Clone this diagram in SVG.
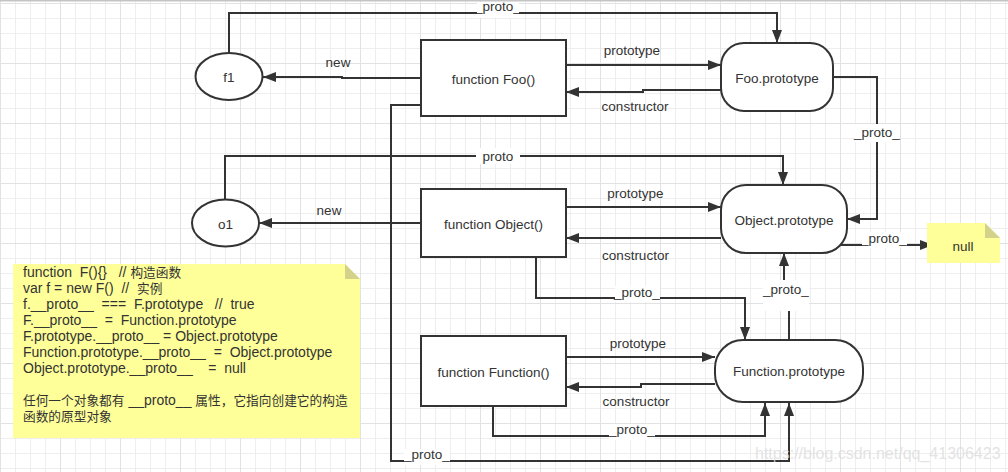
<svg xmlns="http://www.w3.org/2000/svg" width="1008" height="472" viewBox="0 0 1008 472">
<style>
.t{font-family:"Liberation Sans","Noto Sans CJK SC",Arial,sans-serif;font-size:13.5px;fill:#333;text-anchor:middle}
.n{font-family:"Liberation Sans","Noto Sans CJK SC",Arial,sans-serif;font-size:14px;fill:#333;white-space:pre}
.cj{font-size:12.7px}
.box{fill:#fff;stroke:#333;stroke-width:2}
.c{fill:none;stroke:#333;stroke-width:2}
.bg{fill:#fff}
</style>
<defs>
<pattern id="grid" patternUnits="userSpaceOnUse" x="0" y="3" width="60" height="60">
<path d="M15.5,0V60M30.5,0V60M45.5,0V60M0,15.5H60M0,30.5H60M0,45.5H60" stroke="#eeeeee" stroke-width="1" fill="none"/>
<path d="M0.5,0V60M0,0.5H60" stroke="#e2e2e2" stroke-width="1" fill="none"/>
</pattern>
<marker id="arr" markerUnits="userSpaceOnUse" markerWidth="14" markerHeight="10" refX="13" refY="5" orient="auto">
<path d="M0,0L13,5L0,10z" fill="#333"/>
</marker>
</defs>
<rect width="1008" height="472" fill="#fff"/>
<rect width="1008" height="472" fill="url(#grid)"/>
<rect x="0" y="0" width="1008" height="1.5" fill="#c4c4c4"/>

<g id="connectors">
<path class="c" d="M229,53V13H777V43" marker-end="url(#arr)"/>
<path class="c" d="M421,78H342V77H263" marker-end="url(#arr)"/>
<path class="c" d="M566,65H721" marker-end="url(#arr)"/>
<path class="c" d="M721,90H643V92H566" marker-end="url(#arr)"/>
<path class="c" d="M421,105H391V461H789V403" marker-end="url(#arr)"/>
<path class="c" d="M833,77H877V219H847" marker-end="url(#arr)"/>
<path class="c" d="M225,199V156H783V185" marker-end="url(#arr)"/>
<path class="c" d="M421,223H259" marker-end="url(#arr)"/>
<path class="c" d="M566,207H721" marker-end="url(#arr)"/>
<path class="c" d="M721,238H566" marker-end="url(#arr)"/>
<path class="c" d="M840,245H933" marker-end="url(#arr)"/>
<path class="c" d="M536,257V298H745V340" marker-end="url(#arr)"/>
<path class="c" d="M789,340V285H784V253" marker-end="url(#arr)"/>
<path class="c" d="M566,357H715" marker-end="url(#arr)"/>
<path class="c" d="M715,384H641V387H566" marker-end="url(#arr)"/>
<path class="c" d="M493,406V436H765V403" marker-end="url(#arr)"/>
</g>

<g id="labels">
<rect class="bg" x="477" y="2" width="42" height="16"/>
<text class="t" x="498" y="11">_proto_</text>
<text class="t" x="338" y="67">new</text>
<text class="t" x="632" y="55">prototype</text>
<text class="t" x="635" y="111">constructor</text>
<rect class="bg" x="855" y="124" width="44" height="18"/>
<text class="t" x="877" y="137">_proto_</text>
<rect class="bg" x="476" y="148" width="44" height="16"/>
<text class="t" x="498" y="161">proto</text>
<text class="t" x="329" y="215">new</text>
<text class="t" x="635.5" y="198">prototype</text>
<text class="t" x="635.5" y="260">constructor</text>
<rect class="bg" x="862" y="232" width="45" height="16"/>
<text class="t" x="884" y="243">_proto_</text>
<rect class="bg" x="615" y="286" width="45" height="16"/>
<text class="t" x="637" y="297">_proto_</text>
<rect class="bg" x="763" y="280" width="46" height="31"/>
<text class="t" x="786" y="294">_proto_</text>
<text class="t" x="638" y="348">prototype</text>
<text class="t" x="636" y="406">constructor</text>
<rect class="bg" x="609" y="424" width="46" height="16"/>
<text class="t" x="632" y="434">_proto_</text>
<rect class="bg" x="404" y="449" width="46" height="16"/>
<text class="t" x="427" y="459">_proto_</text>
</g>

<g id="f1">
<ellipse class="box" cx="229" cy="76.5" rx="33.5" ry="23.5"/>
<text class="t" x="229" y="81.5">f1</text>
</g>
<g id="foo">
<rect class="box" x="421" y="40" width="145" height="76"/>
<text class="t" x="493.5" y="84">function Foo()</text>
</g>
<g id="foo-prototype">
<rect class="box" x="721" y="43" width="112" height="68" rx="23" ry="23"/>
<text class="t" x="777" y="83">Foo.prototype</text>
</g>
<g id="o1">
<ellipse class="box" cx="225.5" cy="223" rx="33.5" ry="23.5"/>
<text class="t" x="225.5" y="228.5">o1</text>
</g>
<g id="object">
<rect class="box" x="421" y="189" width="145" height="68"/>
<text class="t" x="493.5" y="229">function Object()</text>
</g>
<g id="object-prototype">
<rect class="box" x="721" y="185" width="126" height="68" rx="25" ry="25"/>
<text class="t" x="784" y="225">Object.prototype</text>
</g>
<g id="null">
<path d="M927,223H985L1000,238V263H927z" fill="#ffff99"/>
<path d="M985,223L1000,238H985z" fill="#d2d28a"/>
<text class="t" x="963" y="250.5">null</text>
</g>
<g id="function">
<rect class="box" x="421" y="336" width="145" height="70"/>
<text class="t" x="493.5" y="376.5">function Function()</text>
</g>
<g id="function-prototype">
<rect class="box" x="715" y="340" width="148" height="62" rx="28" ry="28"/>
<text class="t" x="789" y="376">Function.prototype</text>
</g>
<g id="note">
<path d="M13,264H345L360,279V438H13z" fill="#ffff99"/>
<path d="M345,264L360,279H345z" fill="#d2d28a"/>
<text class="n" x="23" y="277">function  F(){}   // <tspan class="cj">构造函数</tspan></text>
<text class="n" x="23" y="293">var f = new F()  //  <tspan class="cj">实例</tspan></text>
<text class="n" x="23" y="309">f.__proto__  ===  F.prototype   //  true</text>
<text class="n" x="23" y="325">F.__proto__  =  Function.prototype</text>
<text class="n" x="23" y="341">F.prototype.__proto__ = Object.prototype</text>
<text class="n" x="23" y="357">Function.prototype.__proto__  =  Object.prototype</text>
<text class="n" x="23" y="373">Object.prototype.__proto__    =  null</text>
<text class="n" x="23" y="405"><tspan class="cj">任何一个对象都有</tspan> __proto__ <tspan class="cj">属性，它指向创建它的构造</tspan></text>
<text class="n" x="23" y="421"><tspan class="cj">函数的原型对象</tspan></text>
</g>
<text x="755" y="459" font-family="'Liberation Sans',Arial,sans-serif" font-size="16" fill="#dcdcdc" fill-opacity="0.8">https://blog.csdn.net/qq_41306423</text>
</svg>
